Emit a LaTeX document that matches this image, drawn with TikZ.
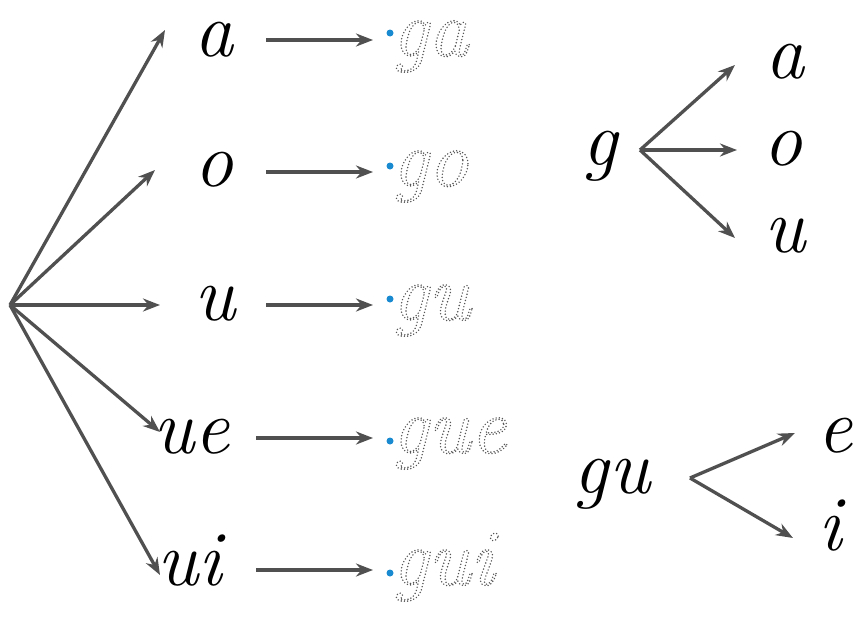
\documentclass[tikz,border=0pt]{standalone}
\usetikzlibrary{arrows.meta}
\definecolor{arrowgray}{HTML}{505050}
\definecolor{traceblue}{HTML}{1A8AD0}
\definecolor{tracegray}{HTML}{555555}
\tikzset{
  arr/.style={draw=arrowgray, line width=3.3pt, -{Stealth[length=17pt,width=13pt]}},
  letter/.style={font=\fontsize{78}{82}\selectfont\itshape, inner sep=0pt, anchor=base},
  traceword/.style={font=\fontsize{80}{84}\selectfont\itshape, inner sep=0pt, anchor=base west, text=tracegray},
  bluedot/.style={fill=traceblue, circle, inner sep=0pt, minimum size=7pt},
}
\newcommand{\tracetext}[1]{\special{pdf:literal q 1 Tr 1.6 w [0 3.2] 0 d 1 J 1 j}#1\special{pdf:literal Q}}
\begin{document}
\begin{tikzpicture}[x=1pt,y=-1pt]
\useasboundingbox (0,0) rectangle (860,640);
% left fan
\coordinate (O) at (10,305);
\node[letter] (a) at (214,56) {a};
\node[letter] (o) at (214,186) {o};
\node[letter] (u) at (215,320) {u};
\node[letter] (ue) at (192,453) {ue};
\node[letter] (ui) at (190,585) {ui};
\coordinate (ta) at (165,30);
\coordinate (to) at (155,170);
\coordinate (tu) at (160,305);
\coordinate (tue) at (160,432);
\coordinate (tui) at (160,575);
\foreach \t in {ta,to,tu,tue,tui} \draw[arr] (O) -- (\t);
\foreach \w/\y/\x in {ga/40/266,go/172/266,gu/305/266,gue/438/256,gui/570/256}{
  \coordinate (s\w) at (\x,\y);
  \coordinate (e\w) at (373,\y);
  \draw[arr] (s\w) -- (e\w);
}
% right top
\node[letter] (G) at (600,165) {g};
\node[letter] (ra) at (785,78) {a};
\node[letter] (ro) at (783,165) {o};
\node[letter] (ru) at (785,252) {u};
\coordinate (G0) at (640,150);
\coordinate (Ga) at (735,65);
\coordinate (Go) at (737,150);
\coordinate (Gu) at (735,238);
\foreach \t in {Ga,Go,Gu} \draw[arr] (G0) -- (\t);
% right bottom
\node[letter] (GU) at (612,493) {gu};
\node[letter] (re) at (835,452) {e};
\node[letter] (ri) at (830,550) {i};
\coordinate (GU0) at (690,478);
\coordinate (GUe) at (795,433);
\coordinate (GUi) at (793,538);
\draw[arr] (GU0) -- (GUe);
\draw[arr] (GU0) -- (GUi);
% traced words
\foreach \w/\y in {ga/33,go/166,gu/299,gue/441,gui/573} \node[bluedot] (d\w) at (390,\y) {};
\node[traceword] (ga) at (392,56) {\tracetext{ga}};
\node[traceword] (go) at (392,186) {\tracetext{go}};
\node[traceword] (gu) at (392,320) {\tracetext{gu}};
\node[traceword] (gue) at (392,453) {\tracetext{gue}};
\node[traceword] (gui) at (392,585) {\tracetext{gui}};
\end{tikzpicture}
\end{document}
